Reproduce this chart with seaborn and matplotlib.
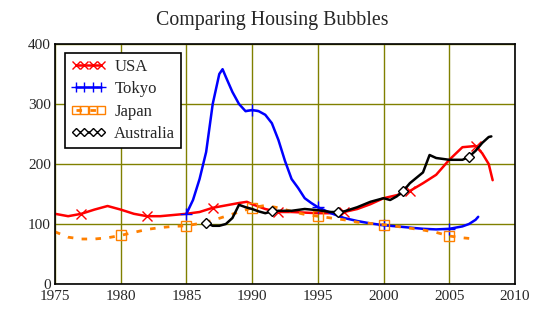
import numpy as np
import pandas as pd
import matplotlib
matplotlib.use("Agg")
import matplotlib.pyplot as plt
from matplotlib.lines import Line2D
import seaborn as sns

# ---- data ----
usa_years = [1975, 1976, 1977, 1978, 1979, 1980, 1981, 1982, 1983, 1984, 1985, 1986, 1987, 1988,
             1989, 1989.6, 1990, 1991, 1992, 1993, 1994, 1995, 1996, 1997, 1998, 1999, 2000, 2001,
             2002, 2003, 2004, 2005, 2006, 2007, 2007.5, 2008, 2008.3]
usa_vals = [117, 113, 117, 124, 130, 124, 117, 113, 113, 115, 117, 120, 127, 131,
            135, 137, 133, 125, 120, 120, 119, 118, 118, 120, 125, 133, 143, 148,
            155, 168, 182, 207, 228, 230, 218, 200, 173]
usa_marks = [1977, 1982, 1987, 1992, 1997, 2002, 2007]

tokyo_years = [1985, 1985.5, 1986, 1986.5, 1987, 1987.5, 1987.75, 1988, 1988.5, 1989, 1989.5, 1990,
               1990.5, 1991, 1991.5, 1992, 1992.5, 1993, 1993.5, 1994, 1994.5, 1995, 1996, 1997,
               1998, 1999, 2000, 2001, 2002, 2003, 2004, 2005, 2006, 2006.5, 2007, 2007.2]
tokyo_vals = [117, 140, 175, 220, 300, 350, 358, 345, 320, 300, 288, 290,
              288, 282, 268, 240, 205, 175, 160, 143, 135, 128, 118, 110,
              105, 101, 98, 96, 94, 92, 91, 92, 96, 100, 107, 112]
tokyo_marks = [1985, 1990, 1995, 2000, 2005]

japan_years = list(range(1975, 2008))
japan_vals = [87, 78, 75, 75, 77, 81, 86, 91, 94, 96, 97, 101, 106, 113, 120, 127, 131,
              127, 121, 116, 113, 110, 107, 103, 101, 99, 96, 93, 90, 86, 80, 77, 75]
japan_marks = [1980, 1985, 1990, 1995, 2000, 2005]

aus_years = [1986.5, 1987, 1987.5, 1988, 1988.5, 1989, 1989.5, 1990, 1990.5, 1991, 1991.5, 1992,
             1993, 1994, 1995, 1996, 1996.5, 1997, 1998, 1999, 2000, 2000.5, 2001, 2001.5, 2002,
             2003, 2003.5, 2004, 2005, 2006, 2006.5, 2007, 2007.5, 2008, 2008.2]
aus_vals = [102, 97, 97, 100, 110, 132, 128, 125, 121, 118, 121, 122,
            122, 125, 123, 120, 120, 121, 128, 137, 143, 140, 146, 155, 168,
            186, 215, 210, 207, 207, 212, 222, 235, 245, 246]
aus_marks = [1986.5, 1991.5, 1996.5, 2001.5, 2006.5]

series_names = ['USA', 'Tokyo', 'Japan', 'Australia']
x_ticks = [1975, 1980, 1985, 1990, 1995, 2000, 2005, 2010]
y_ticks = [0, 100, 200, 300, 400]

sns.set_style("white")
plt.rcParams['font.family'] = ['Liberation Serif', 'DejaVu Serif']

fig = plt.figure(figsize=(5.44, 3.24), dpi=100)
ax = fig.add_axes([55/544, 1-284/324, 460/544, 240/324])

def idx(years, marks):
    return [i for i, y in enumerate(years) if y in marks]

ax.grid(True, color='#808000', lw=1.0)
ax.set_axisbelow(True)

styles = [
    dict(color='red', lw=1.8, marker='x', markersize=7.5, markeredgewidth=1.0,
         markeredgecolor='red', markerfacecolor='red'),
    dict(color='blue', lw=1.8, marker='+', markersize=8, markeredgewidth=1.0,
         markeredgecolor='blue', markerfacecolor='blue'),
    dict(color='#ff8000', lw=2.0, linestyle=(0, (2, 3)), marker='s', markersize=7,
         markerfacecolor='none', markeredgecolor='#ff8000', markeredgewidth=1.0),
    dict(color='black', lw=1.8, marker='D', markersize=5, markerfacecolor='white',
         markeredgecolor='black', markeredgewidth=1.0),
]
data = [(usa_years, usa_vals, usa_marks), (tokyo_years, tokyo_vals, tokyo_marks),
        (japan_years, japan_vals, japan_marks), (aus_years, aus_vals, aus_marks)]

for (xs, ys, mk), st in zip(data, styles):
    sns.lineplot(x=xs, y=ys, ax=ax, sort=False, markevery=idx(xs, mk), legend=False, **st)

ax.set_xlim(1975, 2010)
ax.set_ylim(0, 400)
ax.set_xticks(x_ticks)
ax.set_yticks(y_ticks)
ax.tick_params(axis='x', labelsize=11, length=0, pad=4)
ax.tick_params(axis='y', labelsize=11, length=0, pad=3)
for s in ax.spines.values():
    s.set_color('black')
    s.set_linewidth(1.2)
ax.set_xlabel('')
ax.set_ylabel('')
fig.suptitle('Comparing Housing Bubbles', y=0.965, fontsize=14.3)

handles = [Line2D([0], [0], **st) for st in styles]
leg = ax.legend(handles, series_names, loc='upper left', bbox_to_anchor=(0.022, 0.962),
                numpoints=4, handlelength=2.1, fontsize=12, frameon=True, fancybox=False,
                framealpha=1, edgecolor='black', borderpad=0.35, labelspacing=0.38,
                handletextpad=0.5, borderaxespad=0, markerscale=0.85)
leg.get_frame().set_linewidth(1.2)

fig.savefig('out.png', dpi=100)
